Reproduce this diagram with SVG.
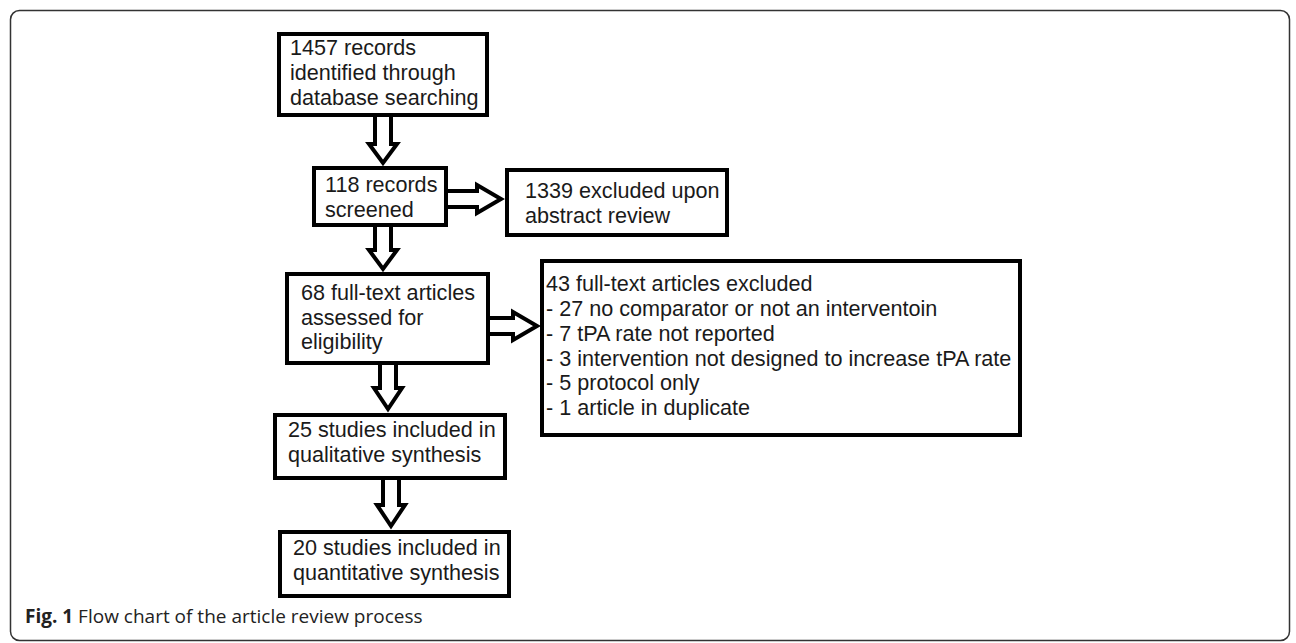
<svg xmlns="http://www.w3.org/2000/svg" width="1296" height="643" viewBox="0 0 1296 643">
<style>
.box{fill:#fff;stroke:#000;stroke-width:4}
.arr{fill:#fff;stroke:#000;stroke-width:4;stroke-linejoin:miter}
.t{font-family:"Liberation Sans",Arial,sans-serif;font-size:21.6px;fill:#1a1a1a}
.cap{font-family:"Open Sans","Noto Sans",sans-serif;font-size:19px;fill:#222}
</style>
<rect x="10.5" y="10.5" width="1279" height="630" rx="9" fill="#fff" stroke="#333" stroke-width="1.5"/>
<g id="connectors">
<polygon class="arr" points="375,115 375,144 369,144 383,163 397,144 391,144 391,115"/>
<polygon class="arr" points="375,225 375,250 369,250 383,269 397,250 391,250 391,225"/>
<polygon class="arr" points="380,363 380,388 374,388 388,409 402,388 396,388 396,363"/>
<polygon class="arr" points="383,478 383,505 377,505 391,526 405,505 399,505 399,478"/>
<polygon class="arr" points="446,191 477,191 477,185 501,199 477,213 477,207 446,207"/>
<polygon class="arr" points="488,318 513,318 513,312 537,326 513,340 513,334 488,334"/>
</g>
<g id="n1">
<rect class="box" x="279" y="34" width="208" height="81"/>
<text class="t" x="290" y="55">1457 records</text>
<text class="t" x="290" y="80">identified through</text>
<text class="t" x="290" y="105">database searching</text>
</g>
<g id="n2">
<rect class="box" x="314" y="168" width="132" height="57"/>
<text class="t" x="325" y="192">118 records</text>
<text class="t" x="325" y="217">screened</text>
</g>
<g id="n3">
<rect class="box" x="507" y="170" width="220" height="65"/>
<text class="t" x="525" y="198">1339 excluded upon</text>
<text class="t" x="525" y="223">abstract review</text>
</g>
<g id="n4">
<rect class="box" x="287" y="274" width="201" height="89"/>
<text class="t" x="301" y="300">68 full-text articles</text>
<text class="t" x="301" y="324.5">assessed for</text>
<text class="t" x="301" y="349">eligibility</text>
</g>
<g id="n5">
<rect class="box" x="542" y="261" width="478" height="174"/>
<text class="t" x="546" y="291">43 full-text articles excluded</text>
<text class="t" x="546" y="316">- 27 no comparator or not an interventoin</text>
<text class="t" x="546" y="341">- 7 tPA rate not reported</text>
<text class="t" x="546" y="366">- 3 intervention not designed to increase tPA rate</text>
<text class="t" x="546" y="390">- 5 protocol only</text>
<text class="t" x="546" y="415">- 1 article in duplicate</text>
</g>
<g id="n6">
<rect class="box" x="275" y="415" width="230" height="63"/>
<text class="t" x="288" y="437">25 studies included in</text>
<text class="t" x="288" y="462">qualitative synthesis</text>
</g>
<g id="n7">
<rect class="box" x="280" y="532" width="229" height="64"/>
<text class="t" x="293" y="555">20 studies included in</text>
<text class="t" x="293" y="580">quantitative synthesis</text>
</g>
<text class="cap" x="25" y="623"><tspan font-weight="bold">Fig. 1</tspan> Flow chart of the article review process</text>
</svg>
